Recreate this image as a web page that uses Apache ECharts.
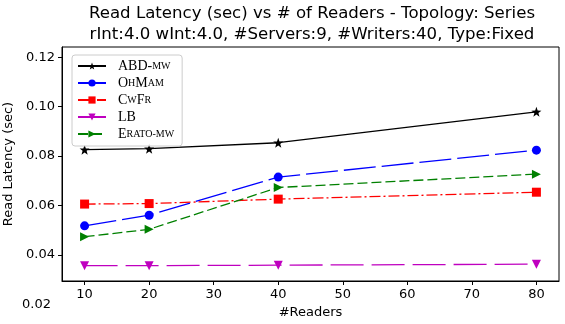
<!DOCTYPE html>
<html>
<head>
<meta charset="utf-8">
<script src="https://cdn.jsdelivr.net/npm/echarts@6/dist/echarts.min.js"></script>
<style>html,body{margin:0;padding:0;background:#fff}#c{width:565px;height:324px}</style>
</head>
<body>
<div id="c"></div>
<script>
const readers = [10, 20, 40, 80];
const abdMw = [0.0826, 0.0830, 0.0854, 0.0979];
const ohMam = [0.0518, 0.0561, 0.0715, 0.0824];
const cwFr = [0.0606, 0.0608, 0.0626, 0.0654];
const lb = [0.0357, 0.0357, 0.0359, 0.0363];
const eratoMw = [0.0474, 0.0504, 0.0673, 0.0727];
const xTicks = [10, 20, 30, 40, 50, 60, 70, 80];
const yTicks = [0.04, 0.06, 0.08, 0.10, 0.12];
const yStrayLabel = 0.02;
const seriesNames = ['ABD-mw', 'OhMam', 'CwFr', 'LB', 'Erato-mw'];
const legendRich = {
  'ABD-mw': '{a|ABD-}{s|MW}',
  'OhMam': '{a|O}{s|H}{a|M}{s|AM}',
  'CwFr': '{a|C}{s|W}{a|F}{s|R}',
  'LB': '{a|LB}',
  'Erato-mw': '{a|E}{s|RATO-MW}'
};
const titleText = 'Read Latency (sec) vs # of Readers - Topology: Series\nrInt:4.0 wInt:4.0, #Servers:9, #Writers:40, Type:Fixed';

const star = 'path://M0,-10 L2.35,-3.24 L9.51,-3.09 L3.8,1.24 L5.88,8.09 L0,4 L-5.88,8.09 L-3.8,1.24 L-9.51,-3.09 L-2.35,-3.24Z';
const pair = arr => readers.map((x, i) => [x, arr[i]]);
const font = 'DejaVu Sans';

function mk(name, data, color, symbol, size, rot, dash) {
  return {
    name, type: 'line', data: pair(data), symbol, symbolSize: size, symbolRotate: rot,
    itemStyle: { color }, lineStyle: { color, width: 1.3, type: dash },
    showAllSymbol: true, animation: false
  };
}

const chart = echarts.init(document.getElementById('c'), null, { renderer: 'canvas' });
chart.setOption({
  animation: false,
  backgroundColor: '#fff',
  title: {
    text: titleText, left: 312, top: 1, padding: [2, 0, 0, 0], textAlign: 'center',
    textStyle: { fontFamily: font, fontSize: 16.6, fontWeight: 'normal', color: '#000', lineHeight: 21, align: 'center' }
  },
  grid: { left: 62, top: 47, right: 6, bottom: 43, show: true, borderColor: '#000', borderWidth: 1, containLabel: false, outerBoundsMode: 'none' },
  legend: {
    orient: 'vertical', left: 72, top: 55, data: seriesNames,
    backgroundColor: 'rgba(255,255,255,0.8)', borderColor: '#ccc', borderWidth: 1, borderRadius: 3,
    padding: [4, 8, 5, 5], itemWidth: 28, itemHeight: 9, itemGap: 3,
    formatter: n => legendRich[n],
    textStyle: {
      padding: [0, 0, 0, 7],
      rich: {
        a: { fontFamily: 'Liberation Serif', fontSize: 14, color: '#000', lineHeight: 14 },
        s: { fontFamily: 'Liberation Serif', fontSize: 10, color: '#000', lineHeight: 14 }
      }
    }
  },
  xAxis: {
    type: 'value', min: 6.5, max: 83.5,
    name: '#Readers', nameLocation: 'middle', nameGap: 25,
    nameTextStyle: { fontFamily: font, fontSize: 13, color: '#000' },
    axisLine: { lineStyle: { color: '#000', width: 1 } },
    axisTick: { show: true, length: 4, lineStyle: { color: '#000' }, customValues: xTicks },
    axisLabel: { fontFamily: font, fontSize: 13, color: '#000', margin: 7, customValues: xTicks },
    splitLine: { show: false }
  },
  yAxis: {
    type: 'value', min: 0.0295, max: 0.1241,
    name: 'Read Latency (sec)', nameLocation: 'middle', nameGap: 47,
    nameTextStyle: { fontFamily: font, fontSize: 13, color: '#000' },
    axisLine: { show: true, lineStyle: { color: '#000', width: 1 } },
    axisTick: { show: true, length: 4, lineStyle: { color: '#000' }, customValues: yTicks },
    axisLabel: { fontFamily: font, fontSize: 13, color: '#000', margin: 7, customValues: yTicks, formatter: v => v.toFixed(2) },
    splitLine: { show: false }
  },
  series: [
    mk('ABD-mw', abdMw, '#000000', star, 10, 0, 'solid'),
    mk('OhMam', ohMam, '#0000ff', 'circle', 9, 0, [32, 6]),
    mk('CwFr', cwFr, '#ff0000', 'rect', 9, 0, [11, 3, 2, 3]),
    mk('LB', lb, '#bf00bf', 'triangle', 9, 180, [33, 8]),
    mk('Erato-mw', eratoMw, '#008000', 'triangle', 9, -90, [10, 4])
  ]
});
const p = chart.convertToPixel({ yAxisIndex: 0 }, yStrayLabel);
chart.setOption({
  graphic: [{
    type: 'text', x: 62 - 4 - 7, y: p,
    style: { text: yStrayLabel.toFixed(2), fontFamily: font, fontSize: 13, fill: '#000', align: 'right', verticalAlign: 'middle' }
  }]
});
</script>
</body>
</html>
